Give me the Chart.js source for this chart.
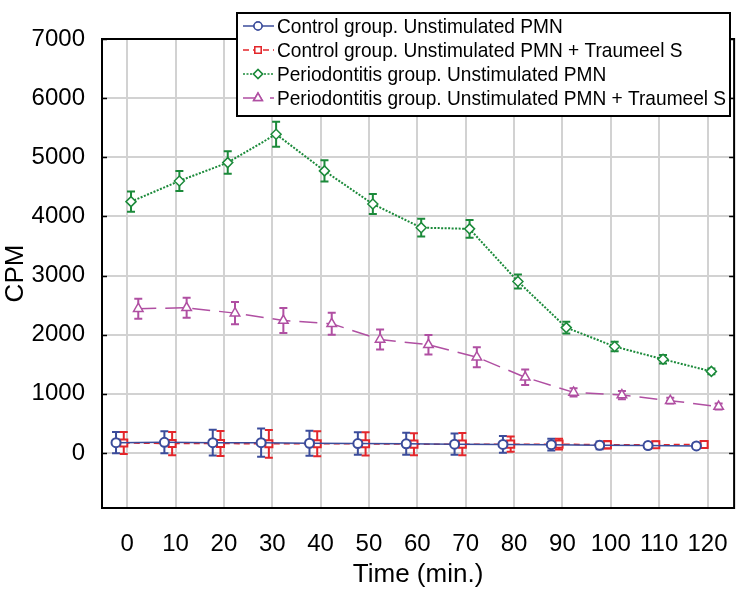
<!DOCTYPE html>
<html>
<head>
<meta charset="utf-8">
<script src="https://cdn.jsdelivr.net/npm/chart.js@4/dist/chart.umd.min.js"></script>
<style>
  html, body { margin: 0; padding: 0; background: #fff; }
  #wrap { width: 750px; height: 600px; }
</style>
</head>
<body>
<div id="wrap"><canvas id="cpmChart" width="750" height="600"></canvas></div>
<script>
// time points (min.)
const times = [0, 10, 20, 30, 40, 50, 60, 70, 80, 90, 100, 110, 120];
const xTicks = times;
const yTicks = [0, 1000, 2000, 3000, 4000, 5000, 6000, 7000];

const seriesNames = [
    'Control group. Unstimulated PMN',
    'Control group. Unstimulated PMN + Traumeel S',
    'Periodontitis group. Unstimulated PMN',
    'Periodontitis group. Unstimulated PMN + Traumeel S'
];

// mean CPM
const controlPMN = [175, 180, 175, 175, 165, 160, 155, 150, 145, 140, 130, 125, 120];
const controlTraumeel = [170, 160, 160, 155, 155, 155, 150, 150, 150, 150, 140, 140, 145];
const periodPMN = [4250, 4600, 4910, 5390, 4770, 4210, 3810, 3790, 2900, 2120, 1800, 1585, 1380];
const periodTraumeel = [2440, 2455, 2365, 2240, 2185, 1920, 1830, 1620, 1280, 1025, 980, 885, 785];

// error bar half-heights
const controlPMNErr = [178, 186, 217, 240, 211, 189, 186, 180, 141, 99, 65, 50, 40];
const controlTraumeelErr = [185, 197, 211, 234, 211, 197, 186, 189, 127, 90, 62, 55, 45];
const periodPMNErr = [170, 170, 190, 210, 180, 170, 150, 150, 120, 100, 80, 70, 50];
const periodTraumeelErr = [170, 170, 190, 210, 185, 170, 165, 170, 130, 70, 70, 50, 50];

// small horizontal shift of each group so the bars don't overlap
const xShift = [-2.3, -0.7, 0.8, 2.3];

const FONT = "'Liberation Sans', Arial, sans-serif";

function pts(values, shift) {
    return values.map((v, i) => ({ x: times[i] + shift, y: v }));
}

const errs = [controlPMNErr, controlTraumeelErr, periodPMNErr, periodTraumeelErr];

const errorBars = {
    id: 'errorBars',
    beforeDatasetsDraw(chart) {
        const c = chart.ctx;
        const xs = chart.scales.x, ys = chart.scales.y;
        chart.data.datasets.forEach((ds, di) => {
            c.save();
            c.strokeStyle = ds.borderColor;
            c.lineWidth = 2;
            c.setLineDash([]);
            ds.data.forEach((p, i) => {
                const e = errs[di][i];
                const px = xs.getPixelForValue(p.x);
                const top = ys.getPixelForValue(p.y + e);
                const bot = ys.getPixelForValue(p.y - e);
                c.beginPath();
                c.moveTo(px, top); c.lineTo(px, bot);
                c.moveTo(px - 4, top); c.lineTo(px + 4, top);
                c.moveTo(px - 4, bot); c.lineTo(px + 4, bot);
                c.stroke();
            });
            c.restore();
        });
    }
};

const frame = {
    id: 'frame',
    afterDatasetsDraw(chart) {
        const c = chart.ctx, a = chart.chartArea, ys = chart.scales.y;
        c.save();
        c.strokeStyle = '#000';
        c.lineWidth = 2;
        c.strokeRect(a.left, a.top, a.right - a.left, a.bottom - a.top);
        c.lineWidth = 1.5;
        yTicks.forEach(v => {
            const py = Math.round(ys.getPixelForValue(v)) + 0.5;
            c.beginPath();
            c.moveTo(a.left, py); c.lineTo(a.left + 5, py);
            c.moveTo(a.right, py); c.lineTo(a.right - 5, py);
            c.stroke();
        });
        c.restore();
    }
};

const boxLegend = {
    id: 'boxLegend',
    afterDraw(chart) {
        const c = chart.ctx;
        const bx = 237, by = 13, bw = 493, bh = 103;
        c.save();
        c.fillStyle = '#fff';
        c.fillRect(bx, by, bw, bh);
        c.strokeStyle = '#000';
        c.lineWidth = 2;
        c.strokeRect(bx, by, bw, bh);
        c.font = '21px ' + FONT;
        c.textBaseline = 'middle';
        chart.data.datasets.forEach((ds, i) => {
            const yy = by + 13 + i * 24;
            c.strokeStyle = ds.borderColor;
            c.lineWidth = 1.5;
            c.setLineDash(ds.borderDash || []);
            c.beginPath();
            c.moveTo(bx + 6, yy); c.lineTo(bx + 37, yy);
            c.stroke();
            c.setLineDash([]);
            Chart.helpers.drawPoint(c, {
                pointStyle: ds.pointStyle,
                radius: ds.pointRadius - 0.5,
                borderWidth: 1.5
            }, bx + 21, yy);
            c.fillStyle = '#fff';
            c.fill();
            c.stroke();
            c.fillStyle = '#000';
            // squeeze the text like the narrow face of the original
            const w = c.measureText(ds.label).width * 0.91;
            c.fillText(ds.label, bx + 40, yy + 1, w);
        });
        c.restore();
    }
};

const ctx = document.getElementById('cpmChart').getContext('2d');

new Chart(ctx, {
    type: 'line',
    data: {
        datasets: [
            {
                label: seriesNames[0],
                data: pts(controlPMN, xShift[0]),
                borderColor: '#3b4c9b',
                borderWidth: 1.5,
                pointStyle: 'circle',
                pointRadius: 4.5,
                pointBackgroundColor: '#fff',
                pointBorderWidth: 2
            },
            {
                label: seriesNames[1],
                data: pts(controlTraumeel, xShift[1]),
                borderColor: '#e3262b',
                borderWidth: 1.5,
                borderDash: [6, 4],
                pointStyle: 'rect',
                pointRadius: 5,
                pointBackgroundColor: '#fff',
                pointBorderWidth: 2
            },
            {
                label: seriesNames[2],
                data: pts(periodPMN, xShift[2]),
                borderColor: '#1b8a3a',
                borderWidth: 2,
                borderDash: [2, 1.5],
                pointStyle: 'rectRot',
                pointRadius: 5,
                pointBackgroundColor: '#fff',
                pointBorderWidth: 1.5
            },
            {
                label: seriesNames[3],
                data: pts(periodTraumeel, xShift[3]),
                borderColor: '#b04fa2',
                borderWidth: 1.5,
                borderDash: [18, 9],
                pointStyle: 'triangle',
                pointRadius: 5.5,
                pointBackgroundColor: '#fff',
                pointBorderWidth: 1.5
            }
        ]
    },
    options: {
        responsive: false,
        animation: false,
        layout: { padding: { top: 39, right: 11, left: 0, bottom: 0 } },
        plugins: {
            legend: { display: false },
            tooltip: { enabled: false }
        },
        scales: {
            x: {
                type: 'linear',
                min: -5.2,
                max: 125.5,
                afterBuildTicks: s => { s.ticks = xTicks.map(v => ({ value: v })); },
                afterFit: s => { s.height = 92; },
                grid: { color: '#d2d2d2', lineWidth: 2, drawTicks: false },
                border: { display: false },
                ticks: {
                    color: '#000',
                    padding: 22,
                    maxRotation: 0,
                    autoSkip: false,
                    callback: v => String(v),
                    font: { family: FONT, size: 24 }
                },
                title: {
                    display: true,
                    text: 'Time (min.)',
                    color: '#000',
                    padding: { top: 0, bottom: 10 },
                    font: { family: FONT, size: 26 }
                }
            },
            y: {
                min: -930,
                max: 7000,
                afterBuildTicks: s => { s.ticks = yTicks.map(v => ({ value: v })); },
                afterFit: s => { s.width = 102; },
                grid: { color: '#d2d2d2', lineWidth: 2, drawTicks: false },
                border: { display: false },
                ticks: {
                    color: '#000',
                    padding: 17,
                    callback: v => String(v),
                    font: { family: FONT, size: 24 }
                },
                title: {
                    display: true,
                    text: 'CPM',
                    color: '#000',
                    padding: { top: 0, bottom: 0 },
                    font: { family: FONT, size: 26 }
                }
            }
        }
    },
    plugins: [errorBars, frame, boxLegend]
});
</script>
</body>
</html>
